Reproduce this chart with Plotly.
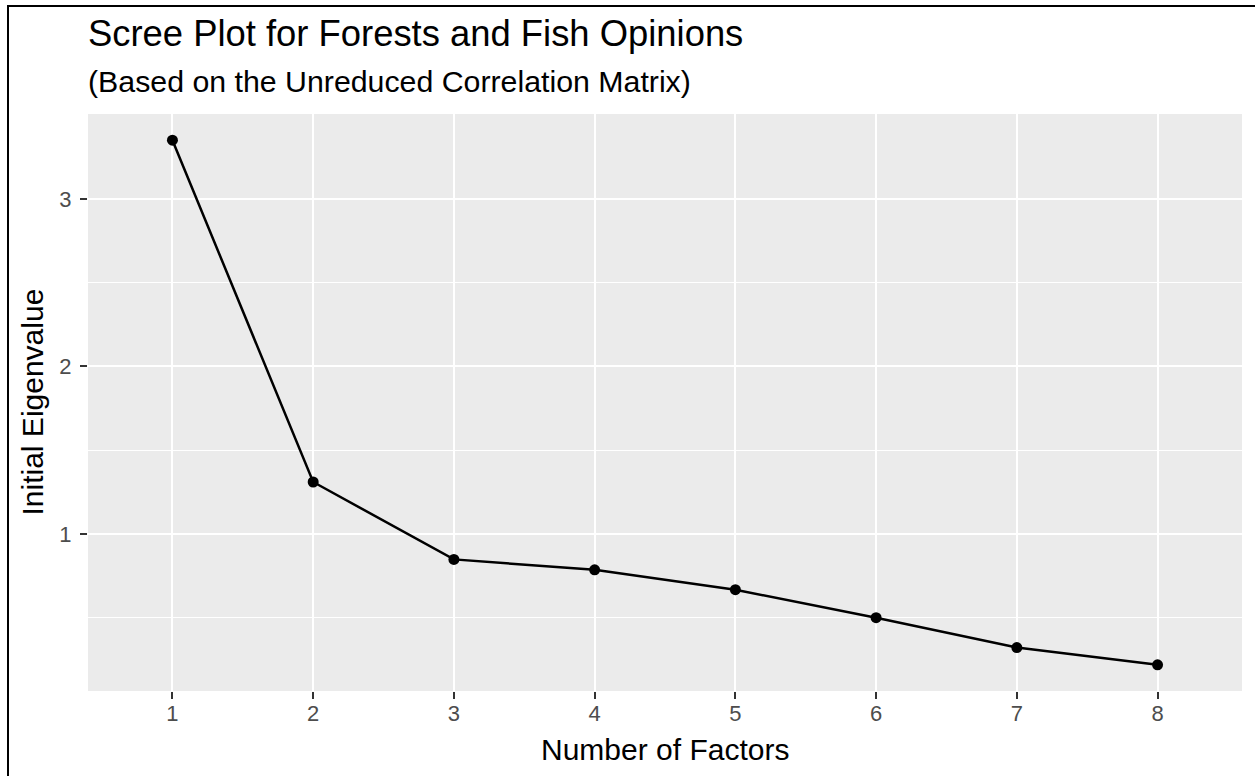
import plotly.graph_objects as go

# Scree data: initial eigenvalues of the unreduced correlation matrix
factors = [1, 2, 3, 4, 5, 6, 7, 8]
eigenvalues = [3.35, 1.31, 0.848, 0.786, 0.667, 0.50, 0.322, 0.219]
x_ticks = ["1", "2", "3", "4", "5", "6", "7", "8"]
y_ticks = [1, 2, 3]

W, H = 1255, 776
ML, MR, MT, MB = 88, 13, 114, 85
PW, PH = W - ML - MR, H - MT - MB


def px_x(x):
    return (x - ML) / PW


def px_y(y):
    return (H - MB - y) / PH


FONT = "Liberation Sans, Arial, Helvetica, sans-serif"
TICK_FONT = dict(size=22, color="#4D4D4D", family=FONT)

fig = go.Figure()
fig.add_trace(go.Scatter(
    x=factors, y=eigenvalues, mode="lines+markers",
    line=dict(color="black", width=2.5),
    marker=dict(color="black", size=11),
    showlegend=False, hoverinfo="skip",
))

ymin, ymax = min(eigenvalues), max(eigenvalues)
pad = (ymax - ymin) * 0.05

fig.update_layout(
    width=W, height=H,
    margin=dict(l=ML, r=MR, t=MT, b=MB, autoexpand=False),
    paper_bgcolor="white", plot_bgcolor="#EBEBEB",
    font=dict(family=FONT, color="black"),
    xaxis=dict(
        range=[0.4, 8.6], tickmode="array", tickvals=factors, ticktext=x_ticks,
        showgrid=True, gridcolor="white", gridwidth=2, zeroline=False,
        ticks="outside", ticklen=7, tickwidth=2, tickcolor="#333333",
        tickfont=TICK_FONT, ticklabelstandoff=-4,
        showline=False,
    ),
    yaxis=dict(
        range=[ymin - pad, ymax + pad], tickmode="array", tickvals=y_ticks,
        showgrid=True, gridcolor="white", gridwidth=2, zeroline=False,
        ticks="outside", ticklen=7, tickwidth=2, tickcolor="#333333",
        tickfont=TICK_FONT, ticklabelstandoff=4,
        minor=dict(tickvals=[0.5, 1.5, 2.5], showgrid=True, gridcolor="white",
                   gridwidth=1, ticks=""),
        showline=False,
    ),
    annotations=[
        dict(text="Scree Plot for Forests and Fish Opinions", xref="paper", yref="paper",
             x=px_x(86), y=px_y(33), xanchor="left", yanchor="middle",
             showarrow=False, font=dict(size=36.4, family=FONT, color="black")),
        dict(text="(Based on the Unreduced Correlation Matrix)", xref="paper", yref="paper",
             x=px_x(86), y=px_y(81), xanchor="left", yanchor="middle",
             showarrow=False, font=dict(size=30.3, family=FONT, color="black")),
        dict(text="Number of Factors", xref="paper", yref="paper",
             x=0.5, y=px_y(749), xanchor="center", yanchor="middle",
             showarrow=False, font=dict(size=30, family=FONT, color="black")),
        dict(text="Initial Eigenvalue", xref="paper", yref="paper",
             x=px_x(32), y=0.5, xanchor="center", yanchor="middle", textangle=-90,
             showarrow=False, font=dict(size=30, family=FONT, color="black")),
    ],
    shapes=[
        dict(type="line", xref="paper", yref="paper", x0=px_x(8), x1=px_x(8),
             y0=px_y(6), y1=px_y(H + 2), line=dict(color="black", width=2)),
        dict(type="line", xref="paper", yref="paper", x0=px_x(7), x1=px_x(W + 2),
             y0=px_y(6), y1=px_y(6), line=dict(color="black", width=2)),
    ],
)

fig.write_html("out.html")
